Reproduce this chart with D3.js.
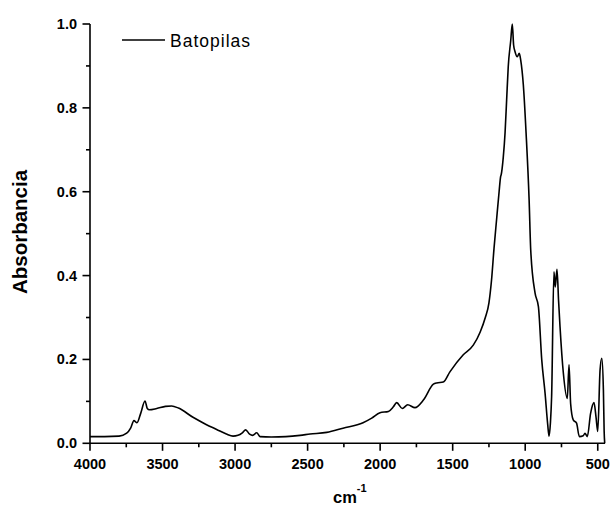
<!DOCTYPE html>
<html><head><meta charset="utf-8">
<script src="https://cdn.jsdelivr.net/npm/d3@7/dist/d3.min.js"></script>
<style>
body{margin:0;background:#fff;}
svg{display:block;font-family:"Liberation Sans",Arial,sans-serif;}
</style></head><body>
<svg id="c" width="611" height="505"></svg>
<script>
const seriesName = "Batopilas";
const xLabel = "cm";
const yLabel = "Absorbancia";
const xTicks = [4000,3500,3000,2500,2000,1500,1000,500];
const yTicks = [0.0,0.2,0.4,0.6,0.8,1.0];
const wavenumber = [4000,3900,3800,3747,3720,3697,3676,3650,3621,3605,3591,3540,3480,3437,3390,3290,3200,3127,3060,3014,2980,2950,2927,2900,2879,2851,2828,2750,2650,2552,2483,2368,2256,2118,2058,2001,1943,1909,1886,1847,1810,1760,1702,1633,1610,1565,1518,1427,1358,1311,1275,1250,1232,1215,1197,1180,1169,1166,1151,1139,1128,1117,1100,1089,1080,1070,1055,1041,1031,1013,994,973,962,932,909,886,863,845,836,826,818,802,793,781,770,760,737,710,698,687,669,646,627,600,588,572,549,526,512,500,484,472,461,456,452];
const absorbance = [0.016,0.016,0.017,0.024,0.036,0.054,0.049,0.072,0.101,0.083,0.080,0.083,0.088,0.089,0.084,0.062,0.045,0.033,0.022,0.017,0.019,0.025,0.032,0.022,0.019,0.025,0.016,0.015,0.016,0.019,0.022,0.026,0.036,0.049,0.060,0.073,0.076,0.087,0.097,0.083,0.092,0.085,0.103,0.141,0.144,0.146,0.171,0.211,0.234,0.265,0.300,0.335,0.390,0.465,0.535,0.600,0.637,0.640,0.683,0.740,0.819,0.898,0.960,1.0,0.950,0.934,0.922,0.930,0.914,0.855,0.740,0.580,0.461,0.358,0.326,0.199,0.119,0.045,0.017,0.050,0.111,0.409,0.373,0.415,0.340,0.278,0.167,0.107,0.187,0.095,0.056,0.048,0.016,0.018,0.024,0.016,0.072,0.097,0.063,0.028,0.175,0.203,0.127,0.03,0.0];

const svg = d3.select("#c");
const x = d3.scaleLinear().domain([4000,450]).range([90,605]);
const y = d3.scaleLinear().domain([0,1]).range([443.3,24]);

const data = wavenumber.map((w,i)=>({w, a:absorbance[i]}));
svg.append("path").datum(data)
  .attr("fill","none").attr("stroke","#000").attr("stroke-width",1.6)
  .attr("stroke-linejoin","round")
  .attr("d", d3.line().x(d=>x(d.w)).y(d=>y(d.a)).curve(d3.curveMonotoneX));

// x axis
const gx = svg.append("g").attr("transform","translate(0,443.3)");
gx.append("line").attr("x1",x(4000)).attr("x2",x(450)).attr("stroke","#000").attr("stroke-width",1.6);
const xMinor = d3.range(3750,450,-500);
gx.selectAll(".mj").data(xTicks).join("line").attr("x1",d=>x(d)).attr("x2",d=>x(d)).attr("y1",0).attr("y2",7.5).attr("stroke","#000").attr("stroke-width",1.6);
gx.selectAll(".mn").data(xMinor).join("line").attr("x1",d=>x(d)).attr("x2",d=>x(d)).attr("y1",0).attr("y2",4).attr("stroke","#000").attr("stroke-width",1.6);
gx.selectAll("text").data(xTicks).join("text").attr("x",d=>x(d)).attr("y",26).attr("text-anchor","middle")
  .attr("font-size",14.5).attr("font-weight","bold").text(d=>d);

// y axis
const gy = svg.append("g").attr("transform","translate(90,0)");
gy.append("line").attr("y1",y(0)).attr("y2",y(1)).attr("stroke","#000").attr("stroke-width",1.6);
const yMinor = d3.range(0.1,1.0,0.2);
gy.selectAll(".mj").data(yTicks).join("line").attr("y1",d=>y(d)).attr("y2",d=>y(d)).attr("x1",0).attr("x2",-7.5).attr("stroke","#000").attr("stroke-width",1.6);
gy.selectAll(".mn").data(yMinor).join("line").attr("y1",d=>y(d)).attr("y2",d=>y(d)).attr("x1",0).attr("x2",-4).attr("stroke","#000").attr("stroke-width",1.6);
gy.selectAll("text").data(yTicks).join("text").attr("x",-13).attr("y",d=>y(d)+5).attr("text-anchor","end")
  .attr("font-size",14.5).attr("font-weight","bold").text(d=>d.toFixed(1));

// titles
svg.append("text").attr("transform","translate(27,232) rotate(-90)").attr("text-anchor","middle")
  .attr("font-size",20.5).attr("font-weight","bold").text(yLabel);
const xt = svg.append("text").attr("x",333).attr("y",503).attr("font-size",16.5).attr("font-weight","bold");
xt.append("tspan").text(xLabel);
xt.append("tspan").attr("dy",-11).attr("font-size",11).text("-1");

// legend
svg.append("line").attr("x1",122).attr("x2",165).attr("y1",40).attr("y2",40).attr("stroke","#000").attr("stroke-width",1.6);
svg.append("text").attr("x",170).attr("y",46.5).attr("font-size",17.5).attr("textLength",80).attr("lengthAdjust","spacing").text(seriesName);
</script></body></html>
